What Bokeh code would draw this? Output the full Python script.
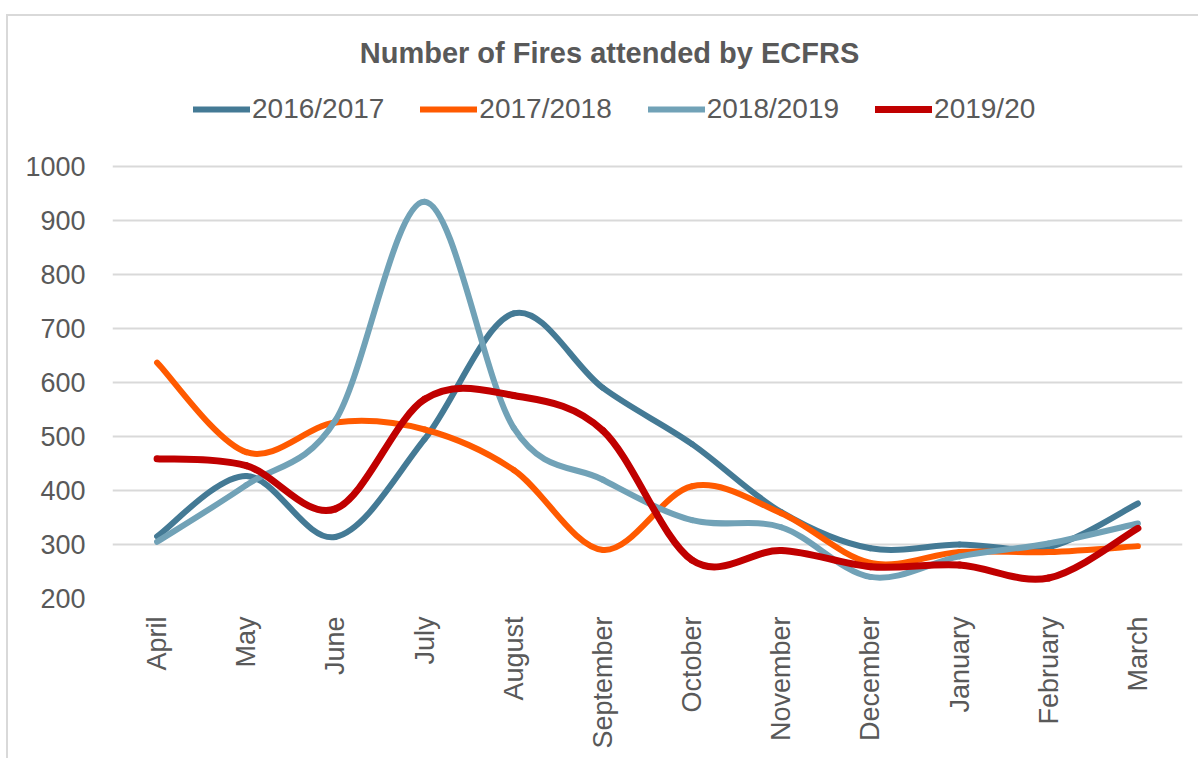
from bokeh.plotting import figure
from bokeh.models import (ColumnDataSource, Legend, LegendItem, FixedTicker,
                          Label)
from bokeh.embed import file_html
from bokeh.resources import INLINE

months = ["April", "May", "June", "July", "August", "September", "October",
          "November", "December", "January", "February", "March"]

fy_2016_17 = [315, 427, 314, 495, 728, 590, 486, 360, 293, 300, 295, 376]
fy_2017_18 = [637, 471, 526, 513, 438, 290, 408, 358, 266, 286, 286, 297]
fy_2018_19 = [305, 410, 530, 935, 516, 420, 345, 332, 240, 278, 302, 339]
fy_2019_20 = [459, 446, 366, 569, 576, 511, 271, 289, 259, 262, 238, 330]

series_names = ["2016/2017", "2017/2018", "2018/2019", "2019/20"]
series_colors = ["#447a95", "#ff5a00", "#71a2b7", "#c00000"]
series_widths = [6, 6, 6, 7]

y_ticks = [200, 300, 400, 500, 600, 700, 800, 900, 1000]

TEXT = "#595959"
FONT = "Liberation Sans"


def smooth_segments(xs, ys):
    """Bezier segments through every point (Catmull-Rom tangents)."""
    n = len(xs)
    seg = dict(x0=[], y0=[], x1=[], y1=[], cx0=[], cy0=[], cx1=[], cy1=[])
    for i in range(n - 1):
        xp, yp = (xs[i - 1], ys[i - 1]) if i > 0 else (xs[i], ys[i])
        xn, yn = (xs[i + 2], ys[i + 2]) if i + 2 < n else (xs[i + 1], ys[i + 1])
        seg["x0"].append(xs[i]); seg["y0"].append(ys[i])
        seg["x1"].append(xs[i + 1]); seg["y1"].append(ys[i + 1])
        seg["cx0"].append(xs[i] + (xs[i + 1] - xp) / 6)
        seg["cy0"].append(ys[i] + (ys[i + 1] - yp) / 6)
        seg["cx1"].append(xs[i + 1] - (xn - xs[i]) / 6)
        seg["cy1"].append(ys[i + 1] - (yn - ys[i]) / 6)
    return seg


# The value axis stops at 1000; the band above it holds the title and legend.
p = figure(width=1192, height=744,
           x_range=(0.5, 12.5), y_range=(200, 1278),
           output_backend="svg", toolbar_location=None,
           min_border_left=104, min_border_right=18, min_border_top=0,
           min_border_bottom=162)
# chart box: light grey border on the top and left edges
p.styles = {"border-top": "2px solid #d9d9d9",
            "border-left": "2px solid #d9d9d9",
            "margin-top": "14px", "margin-left": "6px"}
p.outline_line_color = None
p.background_fill_color = "white"
p.border_fill_color = "white"

xs = list(range(1, len(months) + 1))
items = []
for name, vals, col, w in zip(series_names,
                              [fy_2016_17, fy_2017_18, fy_2018_19, fy_2019_20],
                              series_colors, series_widths):
    src = ColumnDataSource(smooth_segments(xs, vals))
    r = p.bezier(x0="x0", y0="y0", x1="x1", y1="y1", cx0="cx0", cy0="cy0",
                 cx1="cx1", cy1="cy1", source=src, line_color=col,
                 line_width=w, line_cap="round")
    items.append(LegendItem(label=name, renderers=[r]))

# axes
p.xaxis.ticker = FixedTicker(ticks=xs)
p.xaxis.major_label_overrides = {i: m for i, m in zip(xs, months)}
p.xaxis.major_label_orientation = 1.5708
p.xaxis.major_label_text_font = FONT
p.xaxis.major_label_text_font_size = "27px"
p.xaxis.major_label_text_color = TEXT
p.xaxis.major_label_standoff = 12
p.xaxis.axis_line_color = None
p.xaxis.major_tick_line_color = None
p.xaxis.minor_tick_line_color = None

p.yaxis.ticker = FixedTicker(ticks=y_ticks)
p.yaxis.major_label_text_font = FONT
p.yaxis.major_label_text_font_size = "27px"
p.yaxis.major_label_text_color = TEXT
p.yaxis.major_label_standoff = 21
p.yaxis.axis_line_color = None
p.yaxis.major_tick_line_color = None
p.yaxis.minor_tick_line_color = None

p.xgrid.grid_line_color = None
p.ygrid.ticker = FixedTicker(ticks=y_ticks)
p.ygrid.grid_line_color = "#d9d9d9"
p.ygrid.grid_line_width = 2

legend = Legend(items=items, orientation="horizontal", location=(81, 473),
                glyph_width=57, glyph_height=20, label_standoff=2, spacing=36,
                label_text_font=FONT, label_text_font_size="28px",
                label_text_color=TEXT, border_line_color=None,
                background_fill_alpha=0, padding=0, margin=0)
legend.label_height = 30
p.add_layout(legend, "center")

title = Label(text="Number of Fires attended by ECFRS",
              x=497, y=546, x_units="screen", y_units="screen",
              text_align="center", text_baseline="middle",
              text_font=FONT, text_font_size="29px", text_font_style="bold",
              text_color=TEXT)
p.add_layout(title)

open("out.html", "w").write(file_html(p, INLINE))
